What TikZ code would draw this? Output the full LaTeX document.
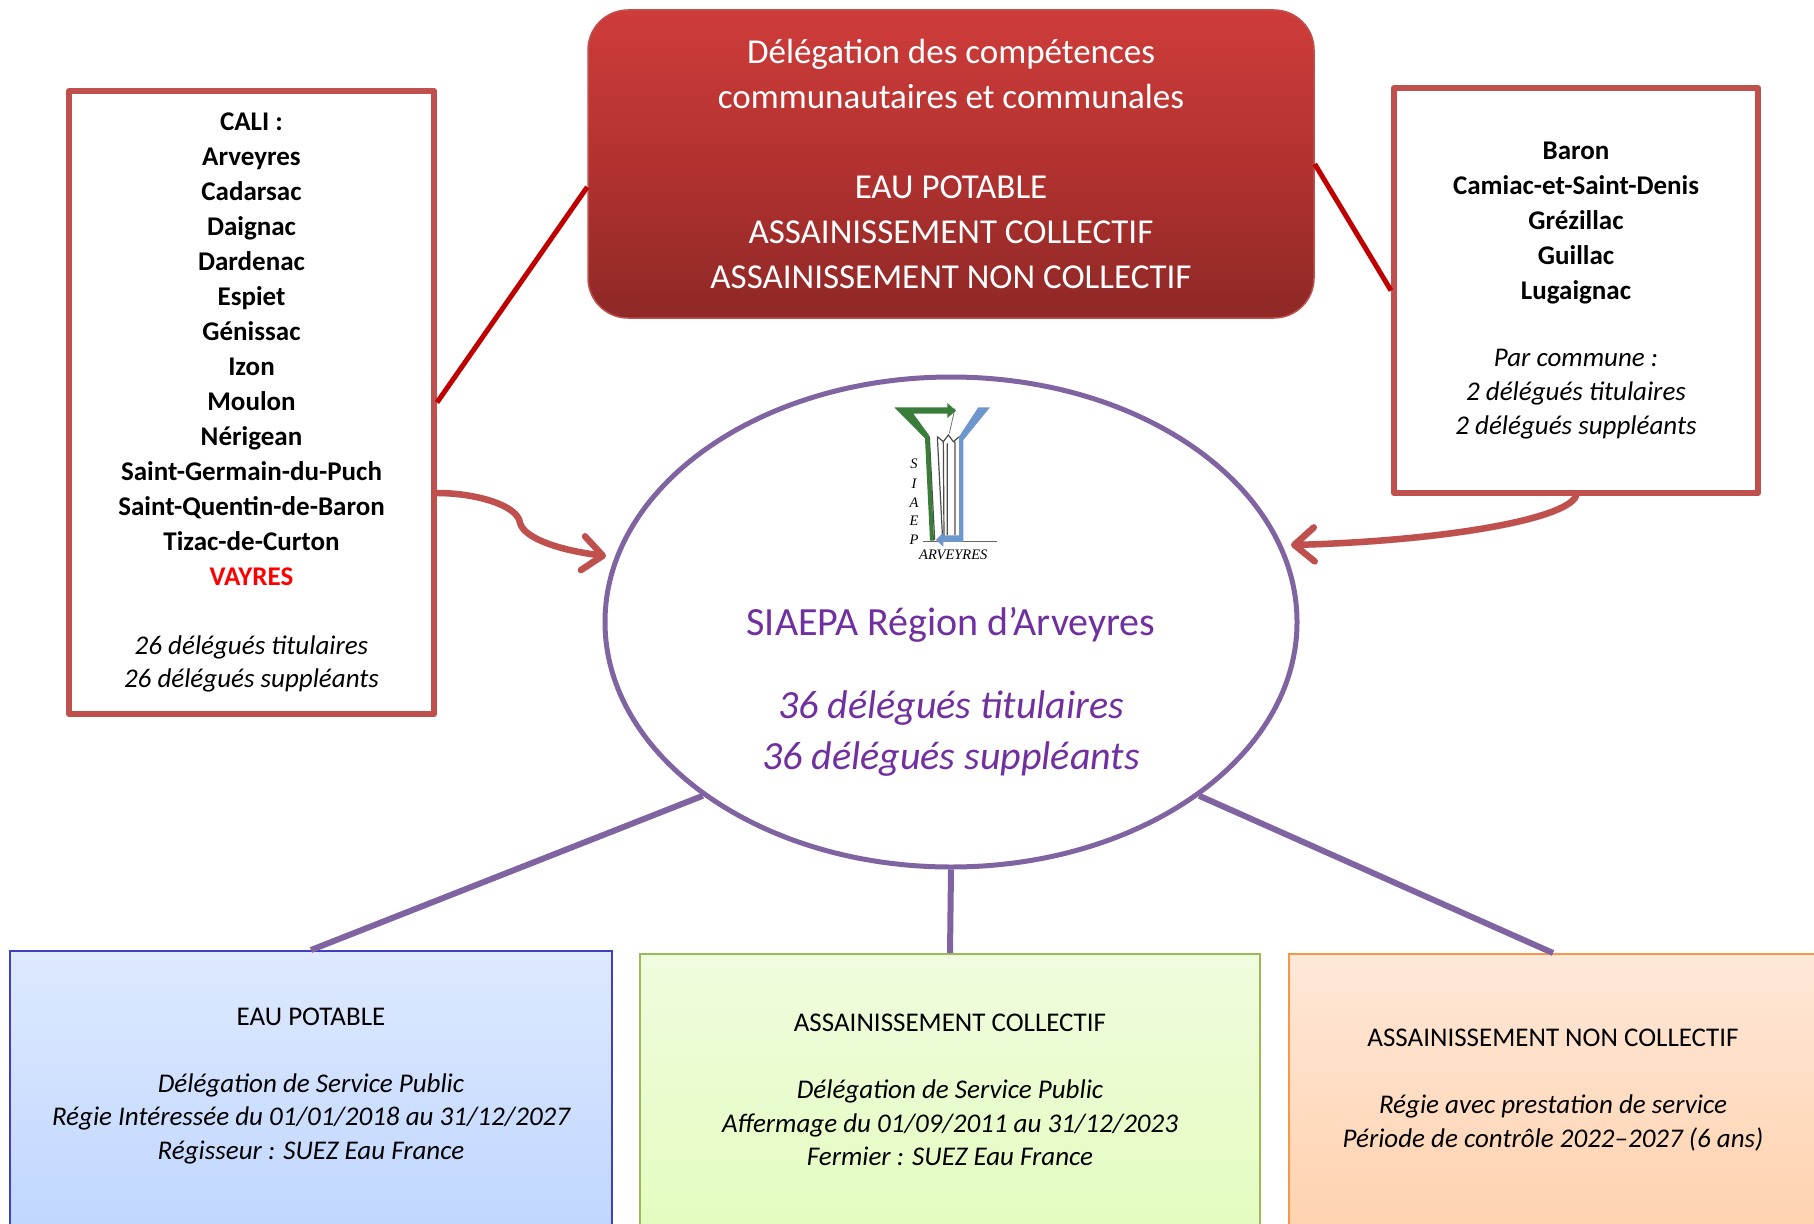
\documentclass[tikz,border=0pt]{standalone}
\usepackage{fontspec}
\setmainfont{Carlito}
\newfontfamily\logofont{Liberation Serif}
\usetikzlibrary{shapes.geometric,arrows.meta}
\definecolor{redbord}{HTML}{C0504D}
\definecolor{darkline}{HTML}{C00000}
\definecolor{purpline}{HTML}{8064A2}
\definecolor{purptext}{HTML}{7030A0}
\definecolor{logogreen}{HTML}{3A7D3A}
\definecolor{logoblue}{HTML}{6C96CC}
\tikzset{
  listbox/.style={draw=redbord,line width=6pt,fill=white,align=center,inner sep=0pt,line join=round,
    font=\fontsize{27}{35}\selectfont},
  bottombox/.style={line width=2pt,inner sep=0pt,minimum height=575pt,anchor=north},
  bottomtext/.style={align=center,inner sep=0pt,font=\fontsize{27}{33.7}\selectfont,anchor=center},
  redlink/.style={draw=darkline,line width=5pt},
  purplink/.style={draw=purpline,line width=6pt},
  feed/.style={draw=redbord,line width=6.5pt,line cap=round,
    -{Straight Barb[length=20pt,width=34pt,round,line width=6.5pt]},
    preaction={draw=black,opacity=.18,transform canvas={shift={(2pt,-3pt)}}}},
}
\begin{document}
\begin{tikzpicture}[x=1pt,y=-1pt]
\useasboundingbox (0,0) rectangle (1814,1223);
\clip (0,0) rectangle (1814,1223);
\fill[white] (0,0) rectangle (1814,1223);
% bottom boxes
\node[bottombox,draw=blue!40!cyan!60!black!70,top color=white!10!blue!13!white,bottom color=blue!35!white,minimum width=602pt,
  draw=purpline!0!blue!50!gray,top color={rgb,255:red,222;green,233;blue,255},bottom color={rgb,255:red,160;green,195;blue,255}] (eau) at (311,950) {};
\node[bottombox,draw={rgb,255:red,155;green,187;blue,89},top color={rgb,255:red,240;green,252;blue,222},bottom color={rgb,255:red,214;green,251;blue,158},minimum width=620pt] (coll) at (950,953) {};
\node[bottombox,draw={rgb,255:red,247;green,150;blue,70},top color={rgb,255:red,255;green,232;blue,216},bottom color={rgb,255:red,255;green,186;blue,130},minimum width=528pt] (noncoll) at (1553,953) {};
\node[bottomtext] (eautxt) at (311,1086) {EAU POTABLE\\[33pt]\itshape Délégation de Service Public\\\itshape Régie Intéressée du 01/01/2018 au 31/12/2027\\\itshape Régisseur : SUEZ Eau France};
\node[bottomtext] (colltxt) at (950,1090) {ASSAINISSEMENT COLLECTIF\\[33pt]\itshape Délégation de Service Public\\\itshape Affermage du 01/09/2011 au 31/12/2023\\\itshape Fermier : SUEZ Eau France};
\node[bottomtext] (noncolltxt) at (1553,1090) {ASSAINISSEMENT NON COLLECTIF\\[33pt]\itshape Régie avec prestation de service\\\itshape Période de contrôle 2022–2027 (6 ans)};
% top red box
\node[draw=redbord,line width=1.5pt,rounded corners=40pt,minimum width=726pt,minimum height=308pt,inner sep=0pt,
  top color={rgb,255:red,206;green,60;blue,58},bottom color={rgb,255:red,142;green,40;blue,38},middle color={rgb,255:red,178;green,50;blue,48},
  text=white,align=center,font=\fontsize{35}{45}\selectfont] (deleg) at (951,164)
  {Délégation des compétences\\communautaires et communales\\[45pt]EAU POTABLE\\ASSAINISSEMENT COLLECTIF\\ASSAINISSEMENT NON COLLECTIF};
% lists
\node[listbox,minimum width=365pt,minimum height=623pt] (cali) at (251.5,402.5)
 {\bfseries CALI :\\\bfseries Arveyres\\\bfseries Cadarsac\\\bfseries Daignac\\\bfseries Dardenac\\\bfseries Espiet\\\bfseries Génissac\\\bfseries Izon\\\bfseries Moulon\\\bfseries Nérigean\\\bfseries Saint-Germain-du-Puch\\\bfseries Saint-Quentin-de-Baron\\\bfseries Tizac-de-Curton\\\textcolor{red}{\bfseries VAYRES}\\[34pt]\itshape 26 délégués titulaires\\[-1.3pt]\itshape 26 délégués suppléants};
\node[listbox,minimum width=364pt,minimum height=405pt] (comm) at (1576,290.5)
 {\bfseries Baron\\\bfseries Camiac-et-Saint-Denis\\\bfseries Grézillac\\\bfseries Guillac\\\bfseries Lugaignac\\[32pt]\itshape Par commune :\\[-1.3pt]\itshape 2 délégués titulaires\\[-1.3pt]\itshape 2 délégués suppléants};
% central ellipse
\node[ellipse,draw=purpline,line width=5pt,fill=white,minimum width=692pt,minimum height=490pt,inner sep=0pt] (siaepa) at (951,622) {};
\node[text=purptext,font=\fontsize{40}{48}\selectfont,inner sep=0pt] (siaepatitle) at (951,625) {SIAEPA Région d’Arveyres};
\node[text=purptext,align=center,font=\fontsize{40}{51}\selectfont\itshape,inner sep=0pt] (siaepacount) at (951,734) {36 délégués titulaires\\36 délégués suppléants};
% logo
\begin{scope}[shift={(860,390)},x=0.3333pt,y=-0.3333pt]
  \draw[black!60,line width=.8pt] (190,455) -- (412,455);
  \draw[black!55,line width=.8pt] (285,55) -- (268,130);
  \draw[black!70,line width=1.2pt] (208,140) -- (224,450) (232,140) -- (248,450) (262,160) -- (262,435) (232,140) -- (250,155) -- (265,135) -- (280,155) -- (298,140) (285,155) -- (285,435) (250,155) -- (252,440);
  \fill[logogreen] (103,52) -- (262,52) -- (262,39) -- (288,62) -- (262,84) -- (262,71) -- (160,71) -- (208,137) -- (222,452) -- (210,452) -- (195,145) -- cycle;
  \fill[logoblue] (355,52) -- (390,52) -- (310,150) -- (310,456) -- (250,456) -- (250,470) -- (228,450) -- (250,428) -- (250,436) -- (297,436) -- (297,140) -- cycle;
  \foreach \c/\yy in {S/220,I/280,A/337,E/392,P/448}{
    \node[font=\logofont\itshape\fontsize{14.5}{15}\selectfont,inner sep=0pt] (logo\c) at (162,\yy) {\c};}
  \node[font=\logofont\itshape\fontsize{14.5}{15}\selectfont,inner sep=0pt] (logoname) at (280,495) {ARVEYRES};
\end{scope}
% connectors
\draw[redlink] (cali.east) -- ([yshift=-23pt]deleg.west);
\draw[redlink] (deleg.east) -- (comm.west);
\draw[purplink] (siaepa.215.7) -- (eau.north);
\draw[purplink] (siaepa.south) -- (coll.north);
\draw[purplink] (siaepa.-35.8) -- (noncoll.north);
\coordinate (tipl) at (606,556);
\coordinate (tipr) at (1291,545);
\draw[feed] ([yshift=-90.5pt]cali.east) .. controls (475,493) and (518,505) .. (520,523) .. controls (525,540) and (565,551) .. (tipl);
\draw[feed] (comm.south) .. controls (1565,520) and (1440,541) .. (tipr);
\end{tikzpicture}
\end{document}
